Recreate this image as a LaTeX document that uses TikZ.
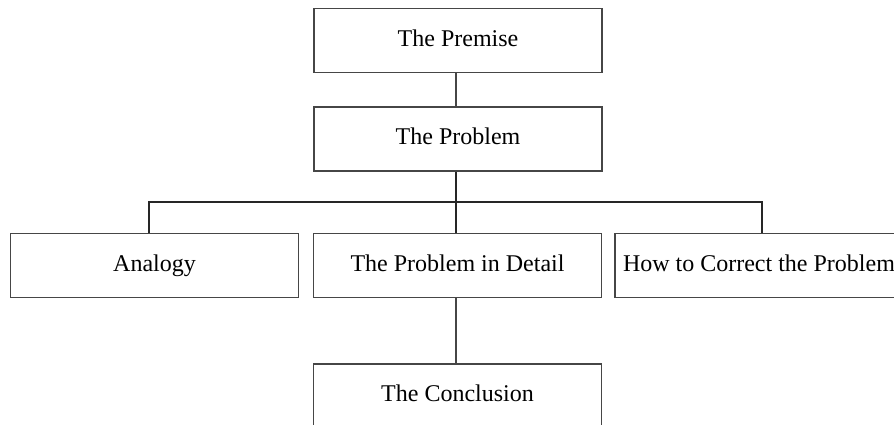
\documentclass[tikz,border=0pt]{standalone}
\usepackage{fontspec}
\setmainfont{Liberation Serif}
\definecolor{boxline}{RGB}{70,70,70}
\begin{document}
\begin{tikzpicture}[x=1pt,y=-1pt,
  box/.style={draw=boxline, line width=1.3pt, minimum width=288pt, minimum height=64pt,
    inner sep=0pt, text height=16pt, text depth=5pt, font=\fontsize{24}{28}\selectfont},
  link/.style={draw=boxline, line width=1.3pt},
  branch/.style={draw=black!85, line width=1.1pt}]
\useasboundingbox (0,0) rectangle (894,424);
\clip (0,0) rectangle (894,424);
\fill[white] (0,0) rectangle (894,424);

\node[box] (premise) at (458,40.5) {The Premise};
\node[box] (problem) at (458,139) {The Problem};
\node[box] (analogy) at (154.5,265.5) {Analogy};
\node[box] (detail) at (457.5,265.5) {The Problem in Detail};
% wider box so its right side runs past the edge; text kept centred at x=759
\node[box, minimum width=320pt] (correct) at (775,265.5) {\hspace*{-32pt}How to Correct the Problem};
\node[box] (conclusion) at (457.5,396) {The Conclusion};

\coordinate (bl) at (149,202);
\coordinate (bm) at (456,202);
\coordinate (br) at (762,202);

\draw[link] (premise.south -| bm) -- (problem.north -| bm);
\draw[branch] (problem.south -| bm) -- (bm);
\draw[branch] (analogy.north -| bl) -- (bl) -- (br) -- (correct.north -| br);
\draw[branch] (bm) -- (detail.north -| bm);
\draw[link] (detail.south -| bm) -- (conclusion.north -| bm);
\end{tikzpicture}
\end{document}
